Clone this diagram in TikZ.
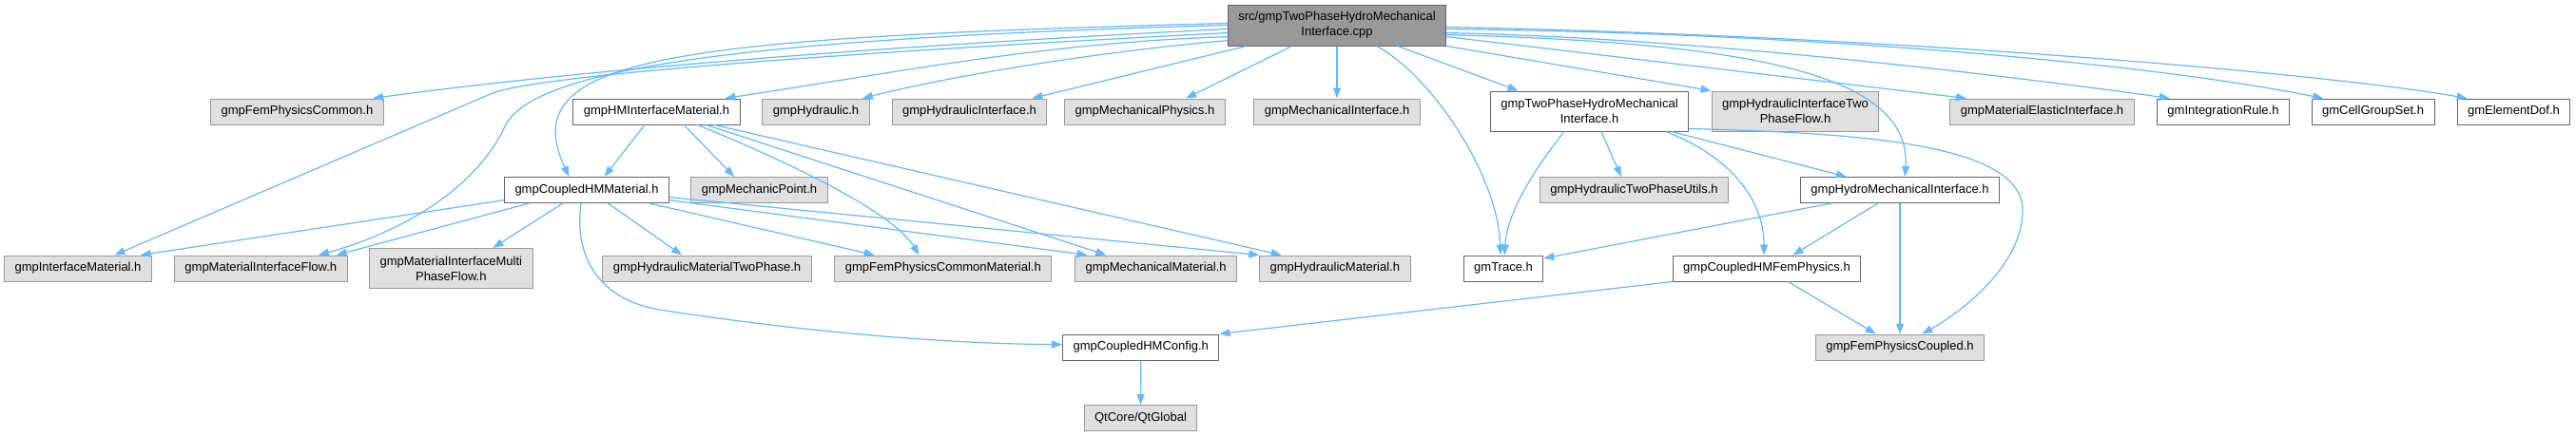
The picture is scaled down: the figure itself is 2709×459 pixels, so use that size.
\documentclass[tikz,border=0pt]{standalone}
\usepackage{fontspec}
\setmainfont{Liberation Sans}
\usetikzlibrary{arrows.meta}
\definecolor{edgeblue}{HTML}{63B8FF}
\definecolor{extfill}{HTML}{E0E0E0}
\definecolor{extline}{HTML}{999999}
\definecolor{boxline}{HTML}{666666}
\tikzstyle{hfile} = [rectangle, draw=boxline, fill=white, line width=1pt,
    font=\fontsize{13pt}{16pt}\selectfont, inner xsep=11pt, inner ysep=0pt,
    minimum height=27pt]
\tikzstyle{extfile} = [hfile, draw=extline, fill=extfill]
\tikzstyle{rootfile} = [hfile, fill=extline, align=center, minimum height=43pt]
\tikzstyle{oneline} = [text height=9.5pt, text depth=2.7pt]
\tikzstyle{twoline} = [align=center, minimum height=42pt]
\tikzstyle{incl} = [draw=edgeblue, line width=1.2pt,
    -{Triangle[length=11pt, width=8pt]}]

\begin{document}
\begin{tikzpicture}[x=1pt, y=-1pt]
    \useasboundingbox (0,0) rectangle (2709,459);
    \node[rootfile] (root) at (1406,26.5) {src/gmpTwoPhaseHydroMechanical\\Interface.cpp};
    % first row
    \node[extfile, oneline] (femcommon) at (312.5,117.5) {gmpFemPhysicsCommon.h};
    \node[hfile, oneline] (hmintmat) at (690.5,117.5) {gmpHMInterfaceMaterial.h};
    \node[extfile, oneline] (hydraulic) at (858,117.5) {gmpHydraulic.h};
    \node[extfile, oneline] (hydrint) at (1019.5,117.5) {gmpHydraulicInterface.h};
    \node[extfile, oneline] (mechphys) at (1204,117.5) {gmpMechanicalPhysics.h};
    \node[extfile, oneline] (mechint) at (1406,117.5) {gmpMechanicalInterface.h};
    \node[hfile, twoline] (twophaseh) at (1671.5,117) {gmpTwoPhaseHydroMechanical\\Interface.h};
    \node[extfile, twoline] (hydrinttwo) at (1888,117) {gmpHydraulicInterfaceTwo\\PhaseFlow.h};
    \node[extfile, oneline] (matelastic) at (2147.5,117.5) {gmpMaterialElasticInterface.h};
    \node[hfile, oneline] (intrule) at (2338,117.5) {gmIntegrationRule.h};
    \node[hfile, oneline] (cellgroup) at (2495.5,117.5) {gmCellGroupSet.h};
    \node[hfile, oneline] (elemdof) at (2643.5,117.5) {gmElementDof.h};
    % second row
    \node[hfile, oneline] (coupledmat) at (617,200) {gmpCoupledHMMaterial.h};
    \node[extfile, oneline] (mechpoint) at (798.5,200) {gmpMechanicPoint.h};
    \node[extfile, oneline] (twophaseutils) at (1718.5,200) {gmpHydraulicTwoPhaseUtils.h};
    \node[hfile, oneline] (hydromechint) at (1998,200) {gmpHydroMechanicalInterface.h};
    % third row
    \node[extfile, oneline] (intmat) at (82,282.5) {gmpInterfaceMaterial.h};
    \node[extfile, oneline] (matintflow) at (274.3,282.5) {gmpMaterialInterfaceFlow.h};
    \node[extfile, twoline] (matintmulti) at (474.3,282.5) {gmpMaterialInterfaceMulti\\PhaseFlow.h};
    \node[extfile, oneline] (hydmattwo) at (743.5,282.5) {gmpHydraulicMaterialTwoPhase.h};
    \node[extfile, oneline] (femcommonmat) at (991.8,282.5) {gmpFemPhysicsCommonMaterial.h};
    \node[extfile, oneline] (mechmat) at (1215.6,282.5) {gmpMechanicalMaterial.h};
    \node[extfile, oneline] (hydmat) at (1403.8,282.5) {gmpHydraulicMaterial.h};
    \node[hfile, oneline] (trace) at (1581,282.5) {gmTrace.h};
    \node[hfile, oneline] (coupledfem) at (1858,282.5) {gmpCoupledHMFemPhysics.h};
    % last rows
    \node[hfile, oneline] (config) at (1199.8,365.5) {gmpCoupledHMConfig.h};
    \node[extfile, oneline] (femcoupled) at (1998,365.5) {gmpFemPhysicsCoupled.h};
    \node[extfile, oneline] (qtglobal) at (1199.5,440) {QtCore/QtGlobal};

    % includes of the .cpp
    \draw[incl] (root.182) .. controls (900,50) and (600,75) .. (femcommon.10);
    \draw[incl] (root.184) .. controls (800,60) and (560,82) .. (518,98) -- (intmat.20);
    \draw[incl] (root.180) .. controls (800,40) and (560,70) .. (531,133)
        .. controls (500,200) and (420,245) .. (matintflow.13);
    \draw[incl] (root.179) .. controls (700,40) and (540,60) .. (coupledmat.143);
    \draw[incl] (root.186) .. controls (1100,45) and (950,75) .. (hmintmat.11);
    \draw[incl] (root.188) .. controls (1150,55) and (1000,80) .. (hydraulic.16);
    \draw[incl] (root.193) -- (hydrint.12);
    \draw[incl] (root.205) -- (mechphys.18);
    \draw[incl] (root) -- (mechint);
    \draw[incl] (root.332) .. controls (1500,75) and (1575,180) .. (trace.102);
    \draw[incl] (root.341) -- (twophaseh.164);
    \draw[incl] (root.south east) -- (hydrinttwo.north west);
    \draw[incl] (root.354) -- (matelastic.170);
    \draw[incl] (root.356) .. controls (1800,40) and (2150,85) .. (intrule.166);
    \draw[incl] (root.358) .. controls (1900,35) and (2250,65) .. (cellgroup.165);
    \draw[incl] (root.359) .. controls (2000,38) and (2450,78) .. (elemdof.164);
    \draw[incl] (root.355) .. controls (1850,45) and (2010,80) .. (hydromechint.69);

    % gmpHMInterfaceMaterial.h
    \draw[incl] (hmintmat.228) -- (coupledmat.37);
    \draw[incl] (hmintmat.334) -- (mechpoint.152);
    \draw[incl] (hmintmat.342) .. controls (840,175) and (940,225) .. (femcommonmat.151);
    \draw[incl] (hmintmat.345) -- (mechmat.165);
    \draw[incl] (hmintmat.347) -- (hydmat.166);

    % gmpCoupledHMMaterial.h
    \draw[incl] (coupledmat.187) -- (intmat.12);
    \draw[incl] (coupledmat.193) -- (matintflow.10);
    \draw[incl] (coupledmat.209) -- (matintmulti.26);
    \draw[incl] (coupledmat.247) .. controls (603,270) and (630,318) .. (700,327)
        .. controls (850,350) and (1000,362) .. (config.178);
    \draw[incl] (coupledmat.328) -- (hydmattwo.152);
    \draw[incl] (coupledmat.348) -- (femcommonmat.169);
    \draw[incl] (coupledmat.353) -- (mechmat.169);
    \draw[incl] (coupledmat.355) -- (hydmat.170);

    % gmpTwoPhaseHydroMechanicalInterface.h
    \draw[incl] (twophaseh.219) .. controls (1620,170) and (1585,220) .. (trace.85);
    \draw[incl] (twophaseh.300) -- (twophaseutils.134);
    \draw[incl] (twophaseh.346) -- (hydromechint.166);
    \draw[incl] (twophaseh.345) .. controls (1820,165) and (1855,210) .. (coupledfem.102);
    \draw[incl] (twophaseh.350) .. controls (1950,140) and (2125,150) .. (2127,220)
        .. controls (2128,280) and (2060,330) .. (femcoupled.31);

    % gmpHydroMechanicalInterface.h
    \draw[incl] (hydromechint.191) -- (trace.14);
    \draw[incl] (hydromechint.211) -- (coupledfem.27);
    \draw[incl] (hydromechint) -- (femcoupled);

    % gmpCoupledHMFemPhysics.h and below
    \draw[incl] (coupledfem.south west) -- (config.north east);
    \draw[incl] (coupledfem.328) -- (femcoupled.151);
    \draw[incl] (config) -- (qtglobal);
\end{tikzpicture}
\end{document}
